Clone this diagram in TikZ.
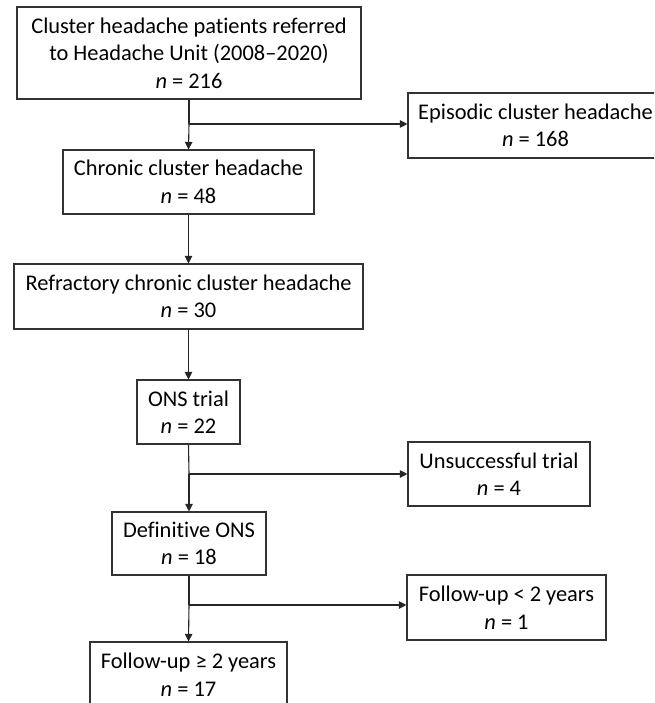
\documentclass[tikz,border=0pt]{standalone}
\usepackage{fontspec}
\setmainfont{Carlito}[Ligatures={NoCommon}]
\usetikzlibrary{arrows.meta}
\begin{document}
\begin{tikzpicture}[x=1pt,y=1pt,
  box/.style={draw=black!80, line width=1.1pt, fill=white, align=center, inner sep=0pt,
    font=\fontsize{22.4}{27.5}\selectfont},
  conn/.style={draw=black!85, line width=1.1pt},
  arr/.style={conn, -{Triangle[length=7.5pt,width=7.5pt]}}]
\useasboundingbox (0,0) rectangle (654,-703);
\begin{scope}
\clip (0,0) rectangle (654,-703);
\node[box, minimum width=344, minimum height=92] (top) at (189,-53)
  {Cluster headache patients referred\\to Headache Unit (2008–2020)\\\textit{n} = 216};
\node[box, minimum width=255, minimum height=65] (epi) at (535.5,-125.5)
  {Episodic cluster headache\\\textit{n} = 168};
\node[box, minimum width=251, minimum height=64] (chr) at (188.5,-182)
  {Chronic cluster headache\\\textit{n} = 48};
\node[box, minimum width=349, minimum height=65] (ref) at (188.5,-296.5)
  {Refractory chronic cluster headache\\\textit{n} = 30};
\node[box, minimum width=103, minimum height=64] (ons) at (188.5,-412)
  {ONS trial\\\textit{n} = 22};
\node[box, minimum width=182, minimum height=64] (uns) at (499,-474)
  {Unsuccessful trial\\\textit{n} = 4};
\node[box, minimum width=154, minimum height=63] (def) at (189,-543.5)
  {Definitive ONS\\\textit{n} = 18};
\node[box, minimum width=199, minimum height=65] (fu1) at (506.5,-607.5)
  {Follow-up < 2 years\\\textit{n} = 1};
\node[box, minimum width=197, minimum height=65] (fu2) at (188.5,-674.5)
  {Follow-up ≥ 2 years\\\textit{n} = 17};
\coordinate (b1) at (189,-124);
\coordinate (b2) at (189,-474);
\coordinate (b3) at (189,-605);
\draw[conn] (top.south) -- (b1);
\draw[arr] (b1) -- (chr.north);
\draw[arr] (b1) -- (b1 -| epi.west);
\draw[arr] (chr.south) -- (ref.north);
\draw[arr] (ref.south) -- (ons.north);
\draw[conn] (ons.south) -- (b2);
\draw[arr] (b2) -- (def.north);
\draw[arr] (b2) -- (b2 -| uns.west);
\draw[conn] (def.south) -- (b3);
\draw[arr] (b3) -- (fu2.north);
\draw[arr] (b3) -- (b3 -| fu1.west);
\end{scope}
\end{tikzpicture}
\end{document}
